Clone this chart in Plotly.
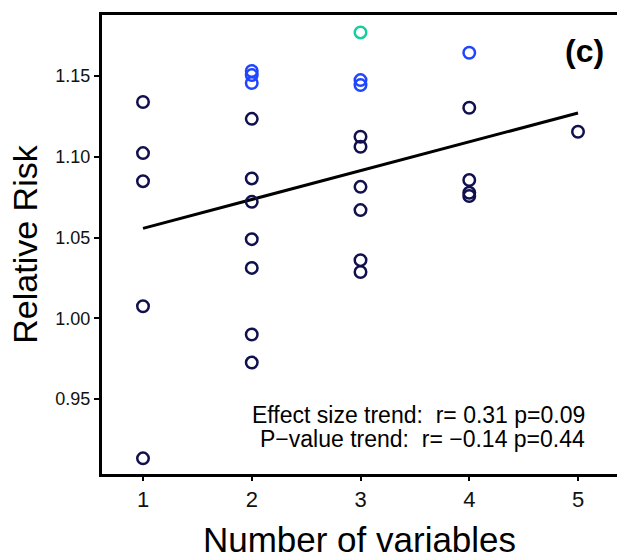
import plotly.graph_objects as go

# Data
navy_x = [1, 1, 1, 1, 1,
          2, 2, 2, 2, 2, 2, 2,
          3, 3, 3, 3, 3, 3,
          4, 4, 4, 4,
          5]
navy_y = [1.1339, 1.1023, 1.0849, 1.0075, 0.9133,
          1.1235, 1.0866, 1.0721, 1.0490, 1.0312, 0.9900, 0.9726,
          1.1124, 1.1062, 1.0814, 1.0670, 1.0360, 1.0287,
          1.1304, 1.0856, 1.0777, 1.0757,
          1.1155]
blue_x = [2, 2, 2, 3, 3, 4]
blue_y = [1.1531, 1.1506, 1.1457, 1.1475, 1.1444, 1.1644]
green_x = [3]
green_y = [1.1770]
trend_x = [1, 5]
trend_y = [1.0557, 1.1271]
x_ticks = [1, 2, 3, 4, 5]
y_ticks = [0.95, 1.00, 1.05, 1.10, 1.15]
y_tick_labels = ["0.95", "1.00", "1.05", "1.10", "1.15"]
stat_lines = ["Effect size trend:\u00a0 r= 0.31 p=0.09",
              "P\u2212value trend:\u00a0 r= \u22120.14 p=0.44"]

FONT = "Liberation Sans, Arial, sans-serif"

W, H = 617, 559
L, T, B = 102, 15, 85
PW, PH = W - L, H - T - B

def px_x(px):
    return (px - L) / PW

def px_y(py):
    return (H - B - py) / PH

fig = go.Figure()

fig.add_trace(go.Scatter(x=trend_x, y=trend_y, mode="lines",
                         line=dict(color="black", width=3), showlegend=False,
                         hoverinfo="skip"))

def add_pts(xs, ys, color):
    fig.add_trace(go.Scatter(x=xs, y=ys, mode="markers", showlegend=False,
                             marker=dict(symbol="circle-open", size=11.5,
                                         color=color, line=dict(width=2.5, color=color))))

add_pts(navy_x, navy_y, "#10104e")
add_pts(blue_x, blue_y, "#1f45ff")
add_pts(green_x, green_y, "#15cfa0")

annotations = []
for txt, py in zip(stat_lines, [415, 439]):
    annotations.append(dict(text=txt, xref="paper", yref="paper", x=px_x(587), y=px_y(py),
                            xanchor="right", yanchor="middle", showarrow=False,
                            font=dict(size=23, family=FONT, color="black")))
annotations.append(dict(text="<b>(c)</b>", xref="paper", yref="paper", x=px_x(584), y=px_y(51),
                        xanchor="center", yanchor="middle", showarrow=False,
                        font=dict(size=32, family=FONT, color="black")))

fig.update_layout(
    width=W, height=H,
    margin=dict(l=L, r=0, t=T, b=B, autoexpand=False),
    plot_bgcolor="white", paper_bgcolor="white",
    font=dict(family=FONT, color="black"),
    xaxis=dict(range=[0.623, 5.3586], tickvals=x_ticks, showgrid=False, zeroline=False,
               showline=True, linecolor="black", linewidth=3, mirror=True,
               ticks="outside", ticklen=4, tickwidth=2, tickcolor="black",
               tickfont=dict(size=22, family=FONT, color="#111"),
               title=dict(text="Number of variables", font=dict(size=35, family=FONT),
                          standoff=22)),
    yaxis=dict(range=[0.9036, 1.1878], tickvals=y_ticks, ticktext=y_tick_labels,
               showgrid=False, zeroline=False,
               showline=True, linecolor="black", linewidth=3,
               ticks="outside", ticklen=5, tickwidth=2, tickcolor="black",
               tickfont=dict(size=18, family=FONT, color="#111"),
               title=dict(text="Relative Risk", font=dict(size=34, family=FONT),
                          standoff=8)),
    annotations=annotations,
)

fig.write_html("out.html",
               config={"displayModeBar": False},
               post_script="document.body.style.margin='0';"
                           "document.documentElement.style.overflow='hidden';"
                           "document.body.style.overflow='hidden';")
